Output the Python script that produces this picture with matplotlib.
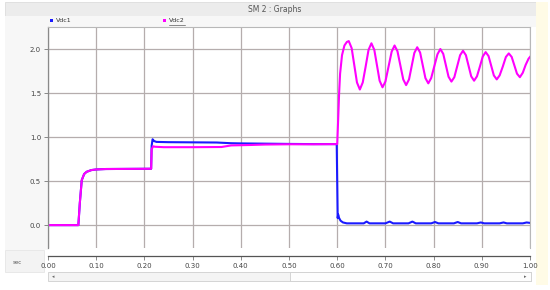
import matplotlib
matplotlib.use("Agg")
import matplotlib.pyplot as plt
from matplotlib.patches import Rectangle

# ---------------- data ----------------
x_ticks = [0.0, 0.1, 0.2, 0.3, 0.4, 0.5, 0.6, 0.7, 0.8, 0.9, 1.0]
x_tick_labels = ["0.00", "0.10", "0.20", "0.30", "0.40", "0.50", "0.60", "0.70", "0.80", "0.90", "1.00"]
y_ticks = [0.0, 0.5, 1.0, 1.5, 2.0]
y_tick_labels = ["0.0", "0.5", "1.0", "1.5", "2.0"]
series_names = ["Vdc1", "Vdc2"]

# Vdc1 (blue)
t_vdc1 = [0.000, 0.063, 0.066, 0.070, 0.075, 0.080, 0.090, 0.100, 0.120, 0.214,
          0.215, 0.217, 0.220, 0.225, 0.250, 0.300, 0.350, 0.380, 0.400, 0.450, 0.500, 0.550, 0.599,
          0.600, 0.601, 0.602, 0.604, 0.607, 0.612, 0.620, 0.640, 0.655, 0.661, 0.667,
          0.700, 0.709, 0.716, 0.748, 0.756, 0.763, 0.795, 0.803, 0.810, 0.842, 0.850, 0.857,
          0.890, 0.898, 0.905, 0.937, 0.945, 0.952, 0.985, 0.993, 1.000]
v_vdc1 = [0.00, 0.00, 0.25, 0.51, 0.58, 0.605, 0.625, 0.632, 0.637, 0.640,
          0.90, 0.975, 0.955, 0.945, 0.942, 0.940, 0.938, 0.930, 0.928, 0.925, 0.922, 0.920, 0.920,
          0.500, 0.080, 0.120, 0.080, 0.050, 0.030, 0.020, 0.020, 0.020, 0.040, 0.020,
          0.020, 0.040, 0.020, 0.020, 0.040, 0.020, 0.020, 0.035, 0.020, 0.020, 0.035, 0.020,
          0.020, 0.030, 0.020, 0.020, 0.030, 0.020, 0.020, 0.030, 0.025]

# Vdc2 (magenta)
t_vdc2 = [0.000, 0.063, 0.066, 0.070, 0.075, 0.080, 0.090, 0.100, 0.120, 0.214,
          0.215, 0.218, 0.222, 0.240, 0.300, 0.360, 0.380, 0.420, 0.450, 0.500, 0.550, 0.600,
          0.602, 0.604, 0.606, 0.610, 0.615, 0.620, 0.624,
          0.630, 0.6355, 0.641, 0.647, 0.653, 0.659, 0.665, 0.671,
          0.677, 0.6825, 0.688, 0.694, 0.700, 0.7065, 0.713, 0.719,
          0.725, 0.731, 0.737, 0.743, 0.749, 0.7545, 0.760, 0.766,
          0.772, 0.7775, 0.783, 0.789, 0.795, 0.8015, 0.808, 0.814,
          0.820, 0.8255, 0.831, 0.837, 0.843, 0.849, 0.855, 0.861,
          0.867, 0.8725, 0.878, 0.884, 0.890, 0.896, 0.902, 0.908,
          0.914, 0.9195, 0.925, 0.931, 0.937, 0.9435, 0.950, 0.956,
          0.962, 0.9675, 0.973, 0.979, 0.985, 0.991, 0.997, 1.000]
v_vdc2 = [0.00, 0.00, 0.25, 0.51, 0.58, 0.605, 0.625, 0.632, 0.637, 0.640,
          0.86, 0.895, 0.890, 0.885, 0.885, 0.887, 0.905, 0.910, 0.915, 0.918, 0.918, 0.920,
          1.20, 1.50, 1.72, 1.93, 2.04, 2.08, 2.09,
          2.01, 1.815, 1.62, 1.54, 1.62, 1.80, 1.99, 2.065,
          1.99, 1.815, 1.64, 1.565, 1.63, 1.80, 1.97, 2.04,
          1.975, 1.815, 1.655, 1.59, 1.655, 1.805, 1.955, 2.02,
          1.96, 1.815, 1.67, 1.61, 1.67, 1.805, 1.94, 2.00,
          1.945, 1.815, 1.685, 1.63, 1.68, 1.805, 1.93, 1.98,
          1.93, 1.81, 1.69, 1.64, 1.69, 1.80, 1.915, 1.965,
          1.92, 1.81, 1.70, 1.655, 1.70, 1.80, 1.91, 1.95,
          1.91, 1.815, 1.72, 1.68, 1.73, 1.82, 1.89, 1.91]

# ---------------- figure ----------------
W, H = 550, 290
fig = plt.figure(figsize=(W / 100, H / 100), dpi=100)
fig.patch.set_facecolor("#ffffff")

def px_rect(x0, y0, x1, y1, **kw):
    fig.patches.append(Rectangle((x0 / W, 1 - y1 / H), (x1 - x0) / W, (y1 - y0) / H,
                                 transform=fig.transFigure, zorder=-5, **kw))

px_rect(5, 2, 536, 16, facecolor="#ececec", edgecolor="#dcdcdc", lw=0.6)
px_rect(5, 16, 536, 27, facecolor="#f7f7f7", edgecolor="none")
px_rect(5, 27, 48, 250, facecolor="#f7f7f7", edgecolor="none")
px_rect(5, 250, 44, 272, facecolor="#f3f3f3", edgecolor="#e2e2e2", lw=0.5)
px_rect(536, 2, 548, 285, facecolor="#fffbe6", edgecolor="none")
px_rect(48, 272, 531, 281, facecolor="#f4f4f4", edgecolor="#cfcfcf", lw=0.6)
px_rect(290, 272, 531, 281, facecolor="#fdfdfd", edgecolor="#cfcfcf", lw=0.6)

fig.text(275 / W, 1 - 9 / H, "SM 2 : Graphs", ha="center", va="center",
         fontsize=5.5, color="#555555")
fig.text(17 / W, 1 - 262 / H, "sec", ha="center", va="center", fontsize=4, color="#555555")
fig.text(53 / W, 1 - 277 / H, "◂", ha="center", va="center", fontsize=3.5, color="#666666")
fig.text(525 / W, 1 - 277 / H, "▸", ha="center", va="center", fontsize=3.5, color="#666666")

# legend
legend_x = [50, 163]
legend_colors = ["#1a1aff", "#ff00ff"]
for name, lx, lc in zip(series_names, legend_x, legend_colors):
    px_rect(lx, 19, lx + 3, 22, facecolor=lc, edgecolor="none")
    fig.text((lx + 6) / W, 1 - 21 / H, name, ha="left", va="center", fontsize=4.5,
             color="#333333")
fig.lines.append(plt.Line2D([169 / W, 185 / W], [1 - 24.5 / H, 1 - 24.5 / H],
                            transform=fig.transFigure, color="#333333", lw=0.4))

# axes
ax = fig.add_axes([48 / W, 1 - 248 / H, (530 - 48) / W, (248 - 27) / H])
ax.set_facecolor("white")
for s in ["top", "right"]:
    ax.spines[s].set_color("#b8b8b8")
    ax.spines[s].set_linewidth(0.8)
ax.spines["left"].set_color("#8a8a8a")
ax.spines["left"].set_linewidth(0.9)
ax.spines["bottom"].set_color("#555555")
ax.spines["bottom"].set_linewidth(0.9)
ax.spines["bottom"].set_position(("outward", 6))

ax.set_xlim(0, 1.0)
ax.set_ylim(-0.26, 2.25)

ax.plot(t_vdc1, v_vdc1, color="#1a1aff", lw=1.5, solid_joinstyle="round")
ax.plot(t_vdc2, v_vdc2, color="#ff00ff", lw=1.5, solid_joinstyle="round")

ax.set_xticks(x_ticks)
ax.set_xticklabels(x_tick_labels)
ax.set_yticks(y_ticks)
ax.set_yticklabels(y_tick_labels)
ax.tick_params(axis="both", length=3, width=0.6, color="#777777", pad=2,
               labelsize=5, labelcolor="#444444")
ax.grid(True, color="#b5adad", lw=0.9)
ax.set_axisbelow(True)

fig.savefig("out.png", dpi=100, facecolor=fig.get_facecolor())
